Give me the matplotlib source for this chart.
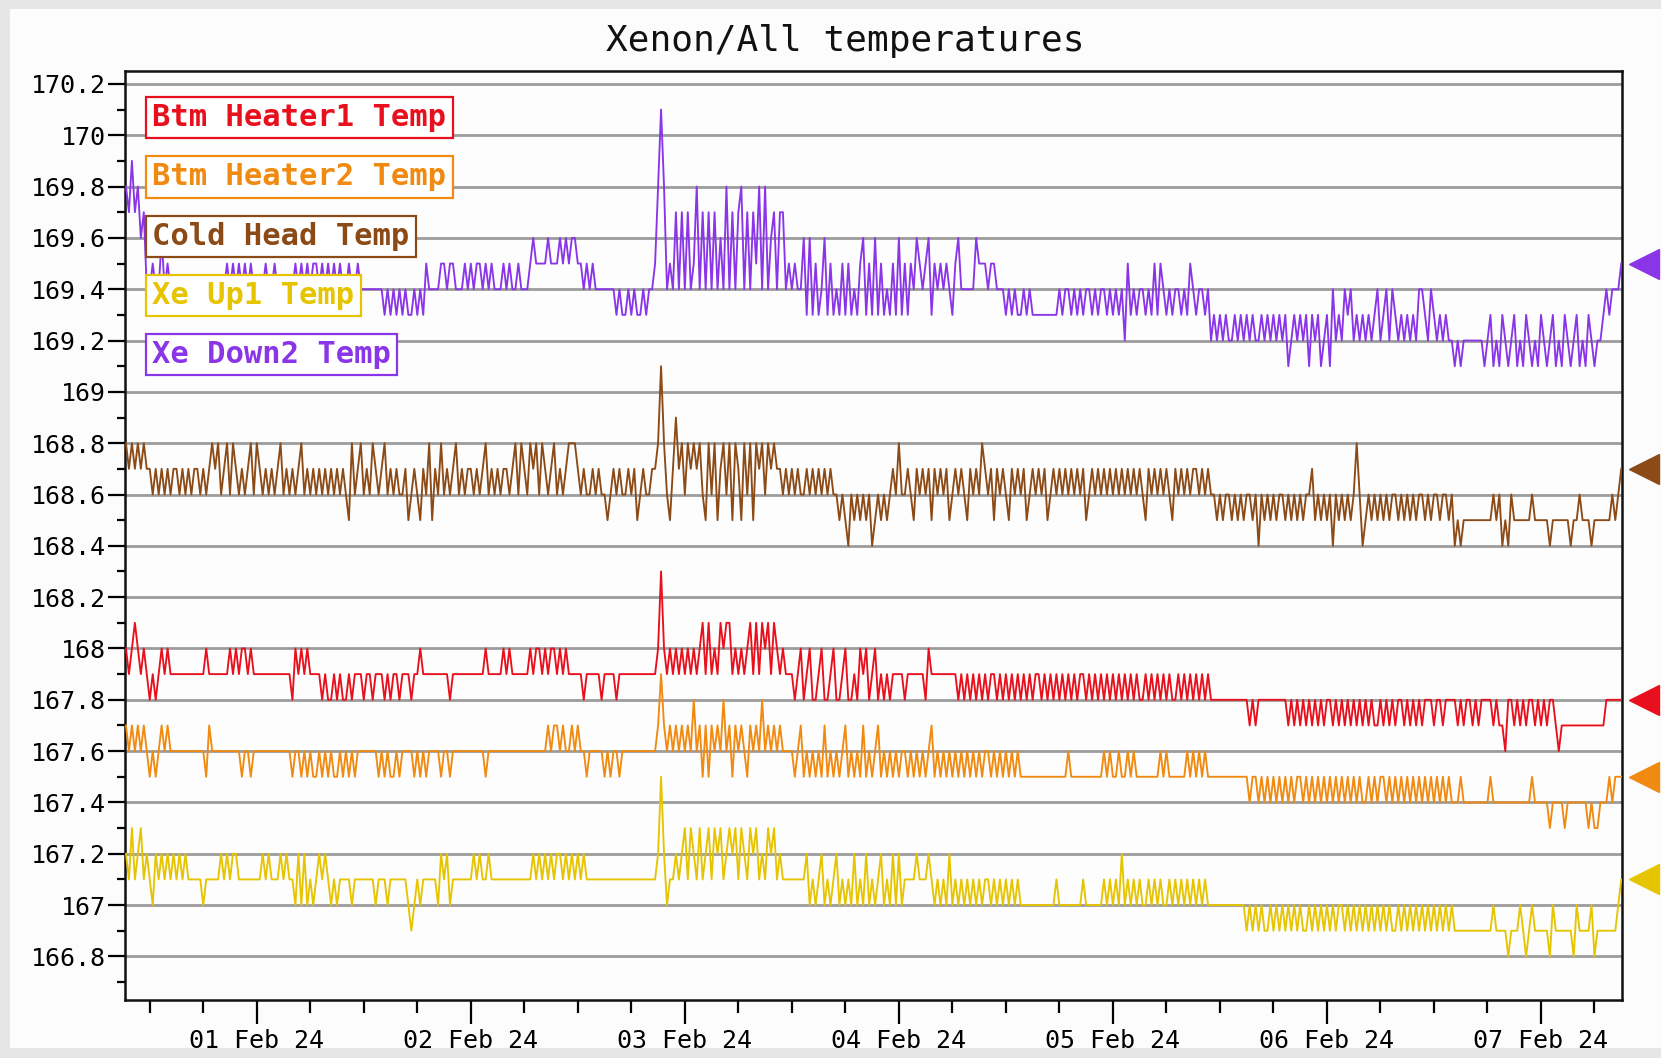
import matplotlib
matplotlib.use("Agg")
import matplotlib.pyplot as plt
import matplotlib.dates as mdates
from matplotlib.patches import Rectangle
from matplotlib.ticker import MultipleLocator, FuncFormatter
from matplotlib.transforms import blended_transform_factory
import numpy as np
import pandas as pd

# readings every 20 minutes; each character is a step of 0.1 above the base value
start = pd.Timestamp("2024-01-31 09:20")
n_samples = 504

names = ["Btm Heater1 Temp", "Btm Heater2 Temp", "Cold Head Temp",
         "Xe Up1 Temp", "Xe Down2 Temp"]
colors = ["#e8101c", "#f08a10", "#8b4a16", "#e6c400", "#8a36e8"]
bases = [167.0, 167.0, 168.0, 166.5, 169.0]

heater1 = (
    "a9aba9a98989a9a9" "99999999999" "a" "9999999" "a9a9aa9a9"
    "999999999999" "8" "a9a9a9" "999"
    "8988989889" "8999899899" "989899899989" "9a99"
    "999999989999999999" "9a99999a9a999999" "a9aa9a9aa9a9a9"
    "99998999998999989999" "99999999" "9ada"
    "9a9a9a9a9a" "9ab9b9a9ba" "bb9a9a9ab9" "b9bab9ba9a" "999"
    "89a89a889a" "889a889a88" "98a9a89a898"
    "98999989999998" "a9" "9999999"
    "9898989898" "9899898989" "8989898998" "9898989898" "9899898989" "898989"
    "8989898898" "9898989889" "8989898989"
    "8888888888888" "7878" "888888888"
    "7878787878" "7878878787" "8787878787" "7878787887" "8787878"
    "8878878888" "7878878788" "88787" "768"
    "8787878878787887" "6" "777777777777777" "888888"
)

heater2 = (
    "7676767" "6565676766" "6666666666" "57" "666666666" "656656"
    "666666666666" "56" "656565565656556565656" "666666"
    "5656556566" "6656565666" "656656" "6666666666" "5"
    "66666666666666666666" "7677676676766" "566666565665666"
    "66666666" "6797"
    "6767676768" "6757576768" "6757676576" "7686767676" "666"
    "5675656565" "7565656756" "5657565675" "6565656656"
    "5656567565" "6565656565" "6565665656" "56565655"
    "55555555555555" "6" "5555555555" "5656556"
    "5565655555" "5556565555" "5565656565" "555555555555"
    "5455454545" "4545454554" "5454545454" "5454545454"
    "4545455454" "5454545454" "5454545454"
    "4454444444" "4454444444" "4444445444" "4434444344" "4444434334" "4454555"
)

cold_head = (
    "87878787" "7676" "76767767676776767" "87867868767678687"
    "6767678676" "7678676767" "676767676"
    "58678676876786" "7676675676576"
    "8576867678" "6767767678" "6767677678" "6876878687" "6786767888" "7676"
    "67676656767667" "67567667" "78b8"
    "6579786878" "7865868578" "6858758685" "87868787767"
    "6767667676767676" "656546565656456565676" "86"
    "6765767675" "7676756767" "657676" "8"
    "7675767657" "6767567676" "7567676767" "6767567676" "767676"
    "7676767657" "6767676576" "7676776767"
    "6656566565" "6566564656" "5656656565" "6566756565" "6465656568"
    "6456565656" "5665656565" "6656566566" "56"
    "4545555555" "5556564546" "5555556555" "5545555554" "5565554555"
    "5556567"
)

xe_up1 = (
    "76867867" "65767676767676" "666656666" "6767677" "66666666"
    "767666" "76766" "57575656767656566" "665666666656665666666"
    "5456" "566666576756" "666666" "76766766" "666666666666"
    "767676767767676767" "666666666666666" "66666666" "67a756"
    "6767868768" "6786878678" "7868768786" "76878676" "666666"
    "6756567565" "6756565756" "5756567565" "75756" "666766676"
    "5656575656" "5656565665" "656565656" "55555555555"
    "5655555555" "6555555656" "565"
    "7565656556" "5656556565" "6565656565" "555555555555"
    "4545454454" "5454545454" "4545454545" "4554545454"
    "5454545454" "4545454545" "4545454545"
    "4444444444" "4445444434" "4454345444" "4435444444" "3544445344" "4444456"
)

xe_down2 = (
    "8797867"
    "44544" "6454" "444444444444444444" "545454545" "4444" "5" "44" "5"
    "444444" "5454545545454545" "44" "54454" "44444"
    "443434343433434354" "444"
    "55455" "444" "54545545" "454445454454445"
    "655556555656566554" "545" "444444" "434334343343" "44" "58b8"
    "4547474745847474746484747847475848467477" "454544"
    "6363534635" "3435353435" "6353635343" "5363535465" "4563545454" "356"
    "44444" "65554554" "44343433434" "33333333"
    "3434434343443434434343"
    "4253434434" "3535434344" "3435434434"
    "2323232232" "3232322323" "2323231232" "3231323123" "1423243423"
    "2323234234" "2432323232" "4432432323" "2"
    "2121222222212"
    "3121321231" "2132121321" "2312132123" "1213212"
    "23434445"
)

codes = [heater1, heater2, cold_head, xe_up1, xe_down2]
for nm, s in zip(names, codes):
    assert len(s) == n_samples, (nm, len(s))

times = pd.date_range(start, periods=n_samples, freq="20min")
series = [b + 0.1 * np.array([int(ch, 36) for ch in s]) for b, s in zip(bases, codes)]

mono = "DejaVu Sans Mono"
plt.rcParams["font.family"] = mono

fig = plt.figure(figsize=(16.61, 10.58), dpi=100, facecolor="#e6e6e6")
fig.add_artist(Rectangle((0.006, 0.0095), 0.994, 0.982, transform=fig.transFigure,
                         facecolor="#fcfcfc", edgecolor="none", zorder=-5))
ax = fig.add_axes([0.0753, 0.0548, 0.9013, 0.878])
ax.set_facecolor("#fdfdfd")

for vals, c in zip(series, colors):
    ax.plot(times, vals, color=c, lw=1.35, zorder=3)

# current-value pointers just outside the right edge
trans = blended_transform_factory(ax.transAxes, ax.transData)
for vals, c in zip(series, colors):
    ax.plot([1.0147], [vals[-1]], marker="<", ms=22, color=c, mec=c,
            transform=trans, clip_on=False, zorder=5)

ax.set_xlim(pd.Timestamp("2024-01-31 09:14"), pd.Timestamp("2024-02-07 09:06"))
ax.set_ylim(166.63, 170.25)

ax.yaxis.set_major_locator(MultipleLocator(0.2))
ax.yaxis.set_minor_locator(MultipleLocator(0.1))
ax.yaxis.set_major_formatter(FuncFormatter(lambda v, p: f"{round(v, 1):g}"))
ax.xaxis.set_major_locator(mdates.DayLocator())
ax.xaxis.set_minor_locator(mdates.HourLocator(byhour=[0, 6, 12, 18]))
ax.xaxis.set_major_formatter(mdates.DateFormatter("%d %b %y"))

ax.tick_params(axis="x", which="major", length=17, width=1.6, pad=4, labelsize=18)
ax.tick_params(axis="x", which="minor", length=9, width=1.6)
ax.tick_params(axis="y", which="major", length=12, width=1.6, pad=2, labelsize=18)
ax.tick_params(axis="y", which="minor", length=6, width=1.6)

ax.grid(axis="y", which="major", color="#9c9c9c", lw=2)
ax.set_axisbelow(True)
for sp in ax.spines.values():
    sp.set_linewidth(1.8)
    sp.set_color("#111111")

for k, (nm, c) in enumerate(zip(names, colors)):
    ax.text(0.0183, 0.9498 - 0.0638 * k, nm, transform=ax.transAxes,
            ha="left", va="center", fontsize=22, fontweight="bold", color=c,
            zorder=10,
            bbox=dict(boxstyle="square,pad=0.2", fc="white", ec=c, lw=1.6))

fig.text(0.509, 0.961, "Xenon/All temperatures", ha="center", va="center",
         fontsize=26, color="#111111")

fig.savefig("out.png", dpi=100, facecolor=fig.get_facecolor())
